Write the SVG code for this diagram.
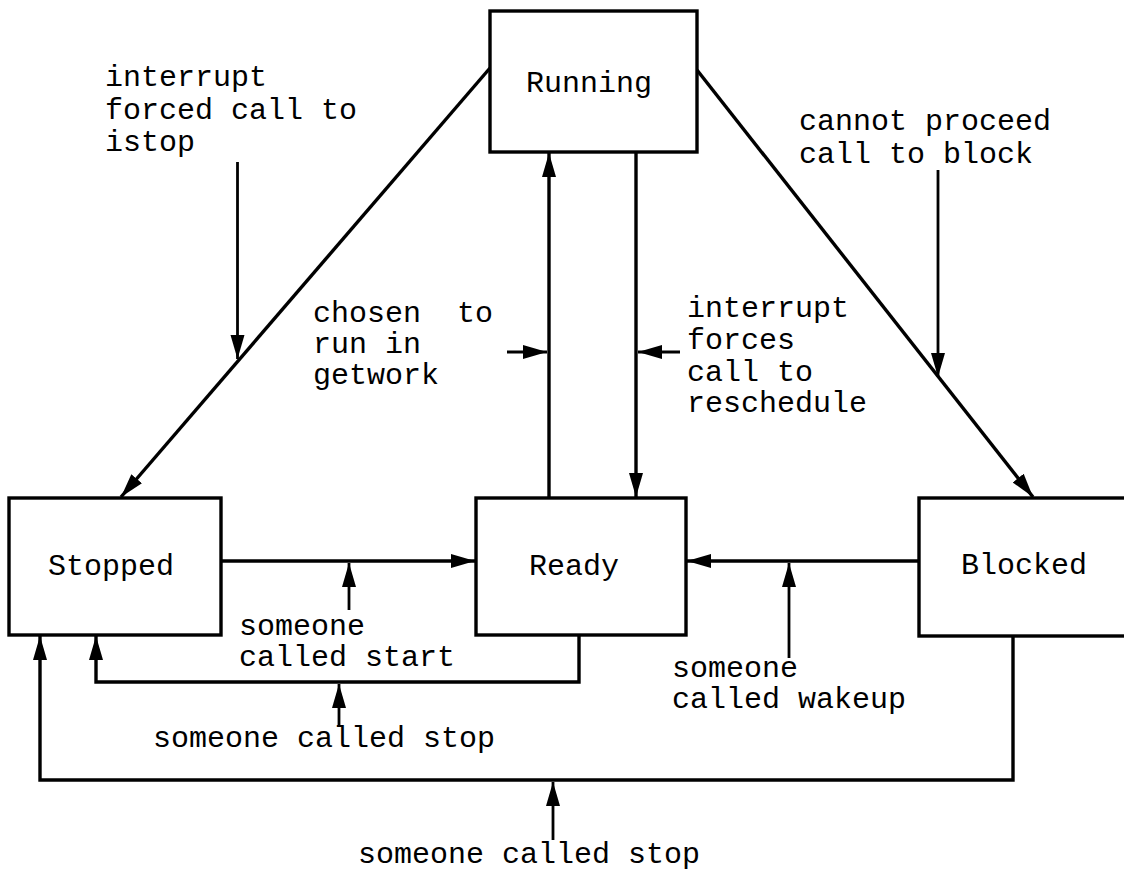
<svg xmlns="http://www.w3.org/2000/svg" width="1124" height="874" viewBox="0 0 1124 874">
<style>
.box{fill:#fff;stroke:#000;stroke-width:3.4}
.ln{fill:none;stroke:#000;stroke-width:3.4}
.ptr{fill:none;stroke:#000;stroke-width:2.8}
text{font-family:"Liberation Mono","Courier New",monospace;font-size:30px;fill:#000}
</style>
<defs>
<marker id="ah" markerUnits="userSpaceOnUse" markerWidth="26" markerHeight="16" refX="24" refY="8" orient="auto">
<path d="M0,1 L24,8 L0,15 z" fill="#000"/>
</marker>
</defs>
<rect width="1124" height="874" fill="#fff"/>
<g id="connectors">
<line class="ln" x1="490" y1="68" x2="121" y2="497" marker-end="url(#ah)"/>
<line class="ln" x1="697" y1="70" x2="1033" y2="497" marker-end="url(#ah)"/>
<line class="ln" x1="549" y1="498" x2="549" y2="153" marker-end="url(#ah)"/>
<line class="ln" x1="636" y1="152" x2="636" y2="497" marker-end="url(#ah)"/>
<line class="ln" x1="221" y1="561" x2="475" y2="561" marker-end="url(#ah)"/>
<line class="ln" x1="919" y1="561" x2="687" y2="561" marker-end="url(#ah)"/>
<path class="ln" d="M579,635 V682 H96 V636" marker-end="url(#ah)"/>
<path class="ln" d="M1013,636 V780 H40 V636" marker-end="url(#ah)"/>
<line class="ptr" x1="237.5" y1="162" x2="237.5" y2="359" marker-end="url(#ah)"/>
<line class="ptr" x1="938" y1="170" x2="938" y2="377" marker-end="url(#ah)"/>
<line class="ptr" x1="507" y1="352" x2="547" y2="352" marker-end="url(#ah)"/>
<line class="ptr" x1="680" y1="352" x2="638" y2="352" marker-end="url(#ah)"/>
<line class="ptr" x1="349" y1="610" x2="349" y2="563" marker-end="url(#ah)"/>
<line class="ptr" x1="789" y1="658" x2="789" y2="563" marker-end="url(#ah)"/>
<line class="ptr" x1="339" y1="727" x2="339" y2="684" marker-end="url(#ah)"/>
<line class="ptr" x1="553" y1="840" x2="553" y2="782" marker-end="url(#ah)"/>
</g>
<g id="running">
<rect class="box" x="490" y="11" width="207" height="141"/>
<text x="526" y="92">Running</text>
</g>
<g id="stopped">
<rect class="box" x="9" y="498" width="212" height="137"/>
<text x="48" y="575">Stopped</text>
</g>
<g id="ready">
<rect class="box" x="476" y="498" width="210" height="137"/>
<text x="529" y="575">Ready</text>
</g>
<g id="blocked">
<rect class="box" x="919" y="498" width="230" height="138"/>
<text x="961" y="574">Blocked</text>
</g>
<g id="labels">
<text x="105" y="86">interrupt</text>
<text x="105" y="119">forced call to</text>
<text x="105" y="151">istop</text>
<text x="799" y="130">cannot proceed</text>
<text x="799" y="163">call to block</text>
<text x="313" y="322" xml:space="preserve">chosen  to</text>
<text x="313" y="353">run in</text>
<text x="313" y="384">getwork</text>
<text x="687" y="317">interrupt</text>
<text x="687" y="349">forces</text>
<text x="687" y="381">call to</text>
<text x="687" y="412">reschedule</text>
<text x="239" y="635">someone</text>
<text x="239" y="666">called start</text>
<text x="672" y="677">someone</text>
<text x="672" y="708">called wakeup</text>
<text x="153" y="747">someone called stop</text>
<text x="358" y="863">someone called stop</text>
</g>
</svg>
